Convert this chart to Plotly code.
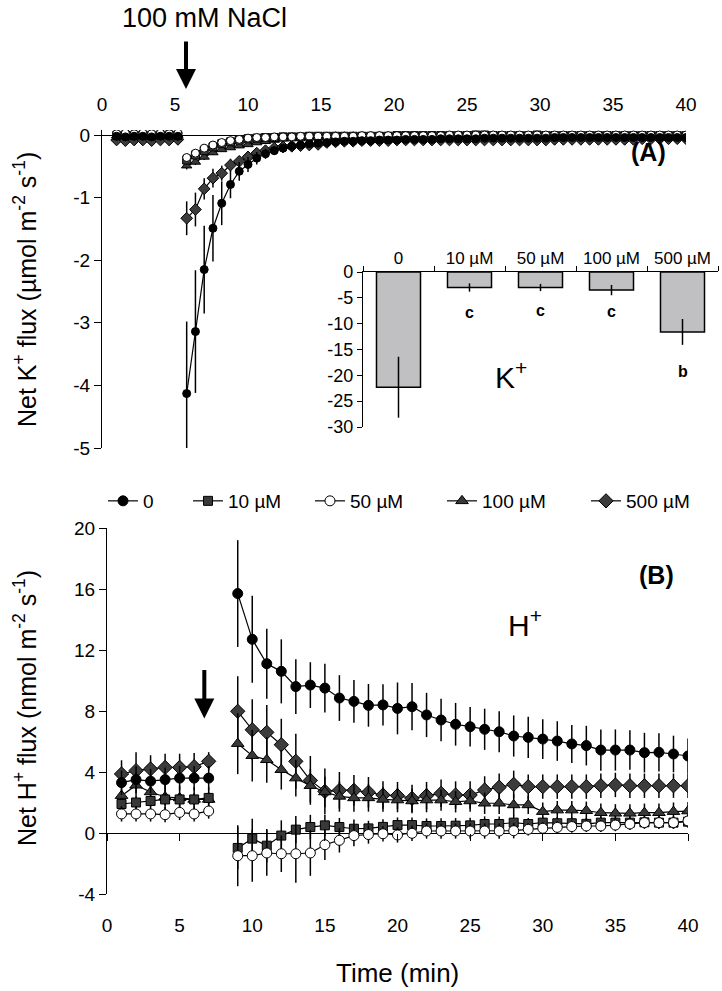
import plotly.graph_objects as go

W, H = 722, 991
FONT = "Liberation Sans, Arial, sans-serif"


def px(x):
    return x / W


def py(y):
    return 1 - y / H


series_names = ["0", "10 µM", "50 µM", "100 µM", "500 µM"]

# ---------------- Panel A: net K+ flux (µmol m-2 s-1) ----------------
tA_pre = [1.0, 1.6, 2.2, 2.8, 3.4, 4.0, 4.6, 5.2]
tA_post = [5.8, 6.4, 7.0, 7.6, 8.2, 8.8, 9.4, 10.0, 10.6, 11.2,
           11.8, 12.4, 13.0, 13.6, 14.2, 14.8, 15.4, 16.0, 16.6, 17.2,
           17.8, 18.4, 19.0, 19.6, 20.2, 20.8, 21.4, 22.0, 22.6, 23.2,
           23.8, 24.4, 25.0, 25.6, 26.2, 26.8, 27.4, 28.0, 28.6, 29.2,
           29.8, 30.4, 31.0, 31.6, 32.2, 32.8, 33.4, 34.0, 34.6, 35.2,
           35.8, 36.4, 37.0, 37.6, 38.2, 38.8, 39.4, 40.0]

kA_pre = {
    "0":      [-0.02, -0.03, -0.02, -0.02, -0.03, -0.02, -0.02, -0.02],
    "10 µM":  [-0.01, 0.00, -0.01, 0.00, -0.01, 0.00, 0.00, -0.01],
    "50 µM":  [0.02, 0.03, 0.02, 0.03, 0.02, 0.03, 0.02, 0.03],
    "100 µM": [-0.01, 0.00, 0.00, -0.01, 0.00, 0.00, -0.01, 0.00],
    "500 µM": [-0.08, -0.09, -0.08, -0.08, -0.09, -0.08, -0.08, -0.07],
}
kA_pre_err = [0.03, 0.03, 0.03, 0.03, 0.03, 0.03, 0.03, 0.03]

kA_post_0 = [-4.13, -3.14, -2.15, -1.49, -1.09, -0.79, -0.58, -0.47, -0.37, -0.30,
             -0.25, -0.21, -0.18, -0.16, -0.14, -0.13, -0.12, -0.11, -0.10, -0.10,
             -0.09, -0.09, -0.08, -0.08, -0.08, -0.07, -0.07, -0.07, -0.07, -0.06,
             -0.06, -0.06, -0.06, -0.06, -0.05, -0.05, -0.05, -0.05, -0.05, -0.05,
             -0.05, -0.05, -0.04, -0.04, -0.04, -0.04, -0.04, -0.04, -0.04, -0.04,
             -0.04, -0.04, -0.04, -0.04, -0.04, -0.04, -0.04, -0.04]
kA_post_0_err = [1.15, 0.98, 0.70, 0.53, 0.35, 0.22, 0.15, 0.12, 0.10, 0.08,
                 0.07, 0.06, 0.06, 0.05, 0.05, 0.05, 0.04, 0.04, 0.04, 0.04,
                 0.04, 0.04, 0.04, 0.04, 0.04, 0.04, 0.04, 0.04, 0.04, 0.04,
                 0.04, 0.04, 0.04, 0.04, 0.04, 0.04, 0.04, 0.04, 0.04, 0.04,
                 0.04, 0.04, 0.04, 0.04, 0.04, 0.04, 0.04, 0.04, 0.04, 0.04,
                 0.04, 0.04, 0.04, 0.04, 0.04, 0.04, 0.04, 0.04]
kA_post_10 = [-0.40, -0.32, -0.25, -0.19, -0.14, -0.11, -0.08, -0.06, -0.05, -0.04,
              -0.04, -0.03, -0.03, -0.03, -0.02, -0.02, -0.02, -0.02, -0.02, -0.02,
              -0.02, -0.02, -0.02, -0.02, -0.01, -0.01, -0.01, -0.01, -0.01, -0.01,
              -0.01, -0.01, -0.01, 0.00, 0.00, -0.01, -0.01, -0.01, -0.01, -0.01,
              0.00, -0.01, -0.01, -0.01, -0.01, -0.01, -0.01, -0.01, -0.01, -0.01,
              -0.01, -0.01, -0.01, -0.01, -0.01, -0.01, -0.01, -0.01]
kA_post_50 = [-0.36, -0.29, -0.21, -0.16, -0.12, -0.09, -0.07, -0.05, -0.04, -0.04,
              -0.03, -0.03, -0.03, -0.02, -0.02, -0.02, -0.02, -0.02, -0.02, -0.02,
              -0.01, -0.01, -0.01, -0.01, -0.01, -0.01, -0.01, -0.01, -0.01, -0.01,
              0.00, 0.00, 0.00, 0.00, 0.00, 0.00, 0.00, 0.00, 0.00, 0.00,
              0.00, 0.00, 0.00, 0.00, 0.00, 0.00, 0.00, 0.00, 0.00, 0.00,
              0.00, 0.00, 0.00, 0.00, 0.00, 0.00, 0.00, 0.00]
kA_post_100 = [-0.49, -0.43, -0.35, -0.28, -0.23, -0.20, -0.17, -0.15, -0.12, -0.10,
               -0.08, -0.06, -0.05, -0.04, -0.03, -0.03, -0.03, -0.02, -0.02, -0.02,
               -0.02, -0.02, -0.02, -0.02, -0.02, -0.02, -0.01, -0.01, -0.01, -0.01,
               -0.01, -0.01, -0.01, -0.01, -0.01, -0.01, -0.01, -0.01, -0.01, -0.01,
               -0.01, -0.01, -0.01, -0.01, -0.01, -0.01, -0.01, -0.01, -0.01, -0.01,
               -0.01, -0.01, -0.01, -0.01, -0.01, -0.01, -0.01, -0.01]
kA_post_500 = [-1.33, -1.19, -0.86, -0.69, -0.61, -0.48, -0.42, -0.35, -0.29, -0.25,
               -0.21, -0.19, -0.18, -0.17, -0.16, -0.15, -0.12, -0.11, -0.10, -0.10,
               -0.09, -0.09, -0.09, -0.09, -0.08, -0.08, -0.08, -0.08, -0.08, -0.08,
               -0.08, -0.08, -0.08, -0.08, -0.08, -0.08, -0.08, -0.08, -0.08, -0.08,
               -0.08, -0.08, -0.07, -0.07, -0.07, -0.07, -0.07, -0.07, -0.07, -0.07,
               -0.07, -0.07, -0.06, -0.06, -0.06, -0.06, -0.06, -0.06]
kA_post_500_err = [0.27, 0.27, 0.17, 0.15, 0.12, 0.10, 0.08, 0.07, 0.06, 0.05,
                   0.04, 0.04, 0.04, 0.04, 0.04, 0.04, 0.04, 0.04, 0.04, 0.04,
                   0.04, 0.04, 0.04, 0.04, 0.04, 0.04, 0.04, 0.04, 0.04, 0.04,
                   0.04, 0.04, 0.04, 0.04, 0.04, 0.04, 0.04, 0.04, 0.04, 0.04,
                   0.04, 0.04, 0.04, 0.04, 0.04, 0.04, 0.04, 0.04, 0.04, 0.04,
                   0.04, 0.04, 0.04, 0.04, 0.04, 0.04, 0.04, 0.04]
kA_post_small_err = [0.06, 0.05, 0.05, 0.04, 0.04, 0.04, 0.03, 0.03, 0.03, 0.03,
                     0.03, 0.03, 0.03, 0.03, 0.03, 0.03, 0.03, 0.03, 0.03, 0.03,
                     0.03, 0.03, 0.03, 0.03, 0.03, 0.03, 0.03, 0.03, 0.03, 0.03,
                     0.03, 0.03, 0.03, 0.03, 0.03, 0.03, 0.03, 0.03, 0.03, 0.03,
                     0.03, 0.03, 0.03, 0.03, 0.03, 0.03, 0.03, 0.03, 0.03, 0.03,
                     0.03, 0.03, 0.03, 0.03, 0.03, 0.03, 0.03, 0.03]

kA_post = {"0": kA_post_0, "10 µM": kA_post_10, "50 µM": kA_post_50,
           "100 µM": kA_post_100, "500 µM": kA_post_500}
kA_post_err = {"0": kA_post_0_err, "10 µM": kA_post_small_err, "50 µM": kA_post_small_err,
               "100 µM": kA_post_small_err, "500 µM": kA_post_500_err}

# ---------------- Inset: integrated K+ flux ----------------
inset_cats = ["0", "10 µM", "50 µM", "100 µM", "500 µM"]
inset_vals = [-22.3, -3.0, -3.0, -3.5, -11.6]
inset_err = [5.9, 0.8, 0.7, 1.0, 2.5]
inset_letters = ["a", "c", "c", "c", "b"]

# ---------------- Panel B: net H+ flux (nmol m-2 s-1) ----------------
tB_pre = [1, 2, 3, 4, 5, 6, 7]
tB_post = [9, 10, 11, 12, 13, 14, 15, 16, 17, 18, 19, 20, 21, 22, 23, 24,
           25, 26, 27, 28, 29, 30, 31, 32, 33, 34, 35, 36, 37, 38, 39, 40]

hB_pre = {
    "0":      [3.3, 3.5, 3.4, 3.5, 3.6, 3.6, 3.6],
    "10 µM":  [1.9, 2.0, 2.1, 2.2, 2.2, 2.2, 2.3],
    "50 µM":  [1.25, 1.25, 1.25, 1.2, 1.35, 1.25, 1.44],
    "100 µM": [2.45, 3.13, 2.69, 2.36, 2.3, 2.2, 2.2],
    "500 µM": [3.87, 4.09, 4.2, 4.3, 4.3, 4.35, 4.7],
}
hB_pre_err = {
    "0":      [0.8, 0.9, 0.8, 0.8, 0.8, 0.8, 0.8],
    "10 µM":  [0.4, 0.4, 0.4, 0.4, 0.4, 0.4, 0.4],
    "50 µM":  [0.5, 0.5, 0.5, 0.5, 0.5, 0.5, 0.5],
    "100 µM": [0.8, 0.8, 0.8, 0.8, 0.8, 0.8, 0.8],
    "500 µM": [0.9, 1.2, 0.9, 0.9, 0.9, 0.9, 0.6],
}
hB_post = {
    "0": [15.7, 12.7, 11.1, 10.6, 9.6, 9.7, 9.5, 8.85, 8.63, 8.37,
          8.4, 8.17, 8.28, 7.74, 7.41, 7.13, 6.97, 6.8, 6.64, 6.36,
          6.27, 6.16, 6.03, 5.84, 5.73, 5.44, 5.44, 5.44, 5.27, 5.29,
          5.18, 5.05],
    "10 µM": [-0.98, -0.37, -0.83, -0.17, 0.22, 0.39, 0.5, 0.39, 0.28, 0.3,
              0.4, 0.52, 0.52, 0.46, 0.46, 0.48, 0.5, 0.59, 0.59, 0.68,
              0.59, 0.68, 0.64, 0.64, 0.6, 0.68, 0.68, 0.68, 0.7, 0.68,
              0.68, 0.74],
    "50 µM": [-1.49, -1.49, -1.31, -1.36, -1.36, -1.31, -0.77, -0.48, -0.17, -0.1,
              -0.05, -0.13, -0.02, 0.13, 0.13, 0.13, 0.13, 0.13, 0.13, 0.15,
              0.24, 0.31, 0.37, 0.42, 0.46, 0.46, 0.52, 0.59, 0.68, 0.68,
              0.68, 0.79],
    "100 µM": [5.86, 5.07, 4.8, 4.15, 3.6, 3.1, 2.69, 2.4, 2.3, 2.3,
               2.2, 2.16, 2.1, 2.16, 2.16, 2.05, 2.1, 1.95, 1.95, 1.84,
               1.84, 1.4, 1.5, 1.5, 1.46, 1.33, 1.29, 1.29, 1.33, 1.33,
               1.4, 1.44],
    "500 µM": [7.98, 6.77, 6.6, 5.79, 4.7, 3.45, 2.73, 2.8, 2.8, 2.67,
               2.49, 2.45, 2.27, 2.45, 2.6, 2.49, 2.49, 2.82, 3.0, 3.19,
               3.04, 3.04, 3.04, 3.04, 3.04, 3.1, 3.15, 3.1, 3.1, 3.1,
               3.1, 3.1],
}
hB_post_err = {
    "0": [3.5, 2.85, 2.3, 2.1, 1.8, 1.5, 1.6, 1.5, 1.4, 1.4,
          1.35, 1.7, 1.55, 1.45, 1.4, 1.4, 1.3, 1.35, 1.35, 1.35,
          1.35, 1.3, 1.3, 1.25, 1.3, 1.35, 1.35, 1.3, 1.3, 1.25,
          1.2, 1.15],
    "10 µM": [1.4, 1.3, 1.1, 1.0, 0.9, 0.8, 0.7, 0.6, 0.6, 0.5,
              0.5, 0.5, 0.5, 0.5, 0.5, 0.5, 0.5, 0.5, 0.5, 0.5,
              0.4, 0.4, 0.4, 0.4, 0.4, 0.4, 0.4, 0.4, 0.4, 0.4,
              0.4, 0.4],
    "50 µM": [2.0, 1.7, 1.5, 1.2, 1.9, 1.5, 1.0, 0.8, 0.7, 0.6,
              0.5, 0.5, 0.5, 0.5, 0.5, 0.5, 0.5, 0.5, 0.5, 0.5,
              0.4, 0.4, 0.4, 0.4, 0.4, 0.4, 0.4, 0.4, 0.4, 0.4,
              0.4, 0.4],
    "100 µM": [2.0, 1.7, 1.5, 1.3, 1.2, 1.1, 1.0, 1.0, 0.9, 0.9,
               0.8, 0.8, 0.8, 0.8, 0.7, 0.7, 0.7, 0.7, 0.7, 0.7,
               0.6, 0.6, 0.6, 0.6, 0.6, 0.6, 0.6, 0.6, 0.6, 0.6,
               0.6, 0.6],
    "500 µM": [2.3, 2.0, 1.8, 1.7, 1.8, 1.6, 1.5, 1.2, 1.0, 1.0,
               0.9, 0.9, 0.9, 0.9, 0.9, 0.9, 0.9, 0.9, 0.9, 0.9,
               0.8, 0.8, 0.8, 0.8, 0.8, 0.8, 0.8, 0.8, 0.8, 0.8,
               0.8, 0.8],
}

time_ticks = [0, 5, 10, 15, 20, 25, 30, 35, 40]
kA_ticks = [0, -1, -2, -3, -4, -5]
hB_ticks = [-4, 0, 4, 8, 12, 16, 20]
inset_ticks = [0, -5, -10, -15, -20, -25, -30]

# ---------------- styles ----------------
styles = {
    "0":      dict(symbol="circle", color="#000000", sA=8, sB=10),
    "10 µM":  dict(symbol="square", color="#383838", sA=8, sB=9),
    "50 µM":  dict(symbol="circle", color="#ffffff", sA=8, sB=10),
    "100 µM": dict(symbol="triangle-up", color="#383838", sA=9, sB=11),
    "500 µM": dict(symbol="diamond", color="#3c3c3c", sA=9, sB=11),
}
legend_x_px = {"0": 103, "10 µM": 188, "50 µM": 310, "100 µM": 442, "500 µM": 586}
legend_keys = {"0": "legend", "10 µM": "legend2", "50 µM": "legend3",
               "100 µM": "legend4", "500 µM": "legend5"}
draw_order = ["500 µM", "100 µM", "10 µM", "50 µM", "0"]


def lab(v):
    return str(v)


fig = go.Figure()

for name in draw_order:
    st = styles[name]
    # Panel A
    fig.add_trace(go.Scatter(
        x=tA_pre + [None] + tA_post,
        y=kA_pre[name] + [None] + kA_post[name],
        mode="lines+markers", connectgaps=False,
        line=dict(color="black", width=1.2),
        marker=dict(symbol=st["symbol"], color=st["color"], size=st["sA"],
                    line=dict(color="black", width=1)),
        error_y=dict(type="data", symmetric=True,
                     array=kA_pre_err + [0] + kA_post_err[name],
                     color="black", thickness=1.5, width=0),
        xaxis="x", yaxis="y", showlegend=False, hoverinfo="skip"))
    # Panel B
    fig.add_trace(go.Scatter(
        x=tB_pre + [None] + tB_post,
        y=hB_pre[name] + [None] + hB_post[name],
        name=name, mode="lines+markers", connectgaps=False,
        line=dict(color="black", width=1.2),
        marker=dict(symbol=st["symbol"], color=st["color"], size=st["sB"],
                    line=dict(color="black", width=1)),
        error_y=dict(type="data", symmetric=True,
                     array=hB_pre_err[name] + [0] + hB_post_err[name],
                     color="black", thickness=1.5, width=0),
        xaxis="x2", yaxis="y2", legend=legend_keys[name], hoverinfo="skip"))

# helper trace so the zero-line tick axis of panel B is drawn
fig.add_trace(go.Scatter(x=[0], y=[0], xaxis="x3", yaxis="y2", mode="markers",
                         marker=dict(opacity=0), showlegend=False, hoverinfo="skip"))

# inset bars
fig.add_trace(go.Bar(
    x=inset_cats, y=inset_vals, width=0.62,
    marker=dict(color="#c0c0c2", line=dict(color="black", width=1.5)),
    error_y=dict(type="data", array=inset_err, symmetric=True,
                 color="black", thickness=1.5, width=0),
    xaxis="x4", yaxis="y4", showlegend=False, hoverinfo="skip"))

# domains
xA_dom = [px(102), px(686)]
yA_dom = [py(448), py(130)]
xB_dom = [px(107), px(688)]
yB_dom = [py(894), py(528)]
yB_range = [-4, 20]
zero_pos = yB_dom[0] + (0 - yB_range[0]) / (yB_range[1] - yB_range[0]) * (yB_dom[1] - yB_dom[0])

tickfont = dict(family=FONT, size=19, color="black")
axis_common = dict(showgrid=False, linecolor="black", linewidth=1.3, automargin=False,
                   tickcolor="black", tickwidth=1.3, tickfont=tickfont)

layout = dict(
    template="none",
    width=W, height=H, margin=dict(l=0, r=0, t=0, b=0, autoexpand=False),
    paper_bgcolor="white", plot_bgcolor="rgba(0,0,0,0)",
    font=dict(family=FONT, color="black"),
    xaxis=dict(domain=xA_dom, range=[0, 40], side="top", anchor="y",
               tickvals=time_ticks, ticktext=[lab(v) for v in time_ticks],
               showline=False, ticks="", zeroline=False,
               ticklabelstandoff=14, **axis_common),
    yaxis=dict(domain=yA_dom, range=[-5, 0.08], anchor="x",
               tickvals=kA_ticks, ticktext=[lab(v) for v in kA_ticks],
               ticks="outside", ticklen=7, showline=True,
               zeroline=True, zerolinecolor="black", zerolinewidth=1.3, **axis_common),
    xaxis2=dict(domain=xB_dom, range=[0, 40], anchor="y2", side="bottom",
                tickvals=time_ticks, ticktext=[lab(v) for v in time_ticks],
                showline=False, ticks="", zeroline=False,
                ticklabelstandoff=18, **axis_common),
    yaxis2=dict(domain=yB_dom, range=yB_range, anchor="x2",
                tickvals=hB_ticks, ticktext=[lab(v) for v in hB_ticks],
                ticks="outside", ticklen=7, showline=True,
                zeroline=True, zerolinecolor="black", zerolinewidth=1.3, **axis_common),
    xaxis3=dict(overlaying="x2", anchor="free", position=zero_pos, side="bottom",
                range=[0, 40], tickvals=time_ticks, ticks="outside", ticklen=7,
                showticklabels=False, showline=False, zeroline=False, automargin=False,
                showgrid=False, tickcolor="black", tickwidth=1.3),
    xaxis4=dict(domain=[px(363), px(718)], anchor="y4", side="top", type="category",
                range=[-0.5, 4.5], tickson="boundaries", ticks="outside", ticklen=5,
                showline=True, zeroline=False, showgrid=False, linecolor="black",
                linewidth=1.3, tickcolor="black", tickwidth=1.3, automargin=False,
                tickfont=dict(family=FONT, size=17, color="black")),
    yaxis4=dict(domain=[py(427), py(272)], anchor="x4", range=[-30, 0],
                tickvals=inset_ticks, ticktext=[lab(v) for v in inset_ticks],
                ticks="outside", ticklen=5, showline=True, zeroline=False,
                showgrid=False, linecolor="black", linewidth=1.3, automargin=False,
                tickcolor="black", tickwidth=1.3,
                tickfont=dict(family=FONT, size=18, color="black")),
    bargap=0.38,
)

for name in series_names:
    layout[legend_keys[name]] = dict(
        x=px(legend_x_px[name]), y=py(501), xanchor="left", yanchor="middle",
        orientation="h", bgcolor="rgba(0,0,0,0)", itemwidth=30,
        font=dict(family=FONT, size=19, color="black"))

fig.update_layout(**layout)


def note(text, x, y, size, ref=("paper", "paper"), angle=0):
    return dict(text=text, x=x, y=y, xref=ref[0], yref=ref[1], showarrow=False,
                xanchor="center", yanchor="middle", textangle=angle,
                font=dict(family=FONT, size=size, color="black"))


annotations = [
    note("100 mM NaCl", px(204), py(18), 27),
    dict(text="", x=px(186), y=py(89), xref="paper", yref="paper",
         showarrow=True, ax=0, ay=-49, arrowhead=2, arrowwidth=4, arrowsize=1,
         arrowcolor="black"),
    dict(text="", x=6.7, y=7.5, xref="x2", yref="y2",
         showarrow=True, ax=0, ay=-50, arrowhead=2, arrowwidth=4, arrowsize=1,
         arrowcolor="black"),
    note("<b>(A)</b>", px(648), py(152), 25),
    note("<b>(B)</b>", px(656), py(575), 25),
    note("K<sup>+</sup>", px(511), py(375), 30),
    note("H<sup>+</sup>", px(525), py(623), 30),
    note("Net K<sup>+</sup> flux (µmol m<sup>-2</sup> s<sup>-1</sup>)", px(25), py(290), 25, angle=-90),
    note("Net H<sup>+</sup> flux (nmol m<sup>-2</sup> s<sup>-1</sup>)", px(25), py(708), 25, angle=-90),
    note("Time (min)", px(398), py(973), 26),
]
letter_y = [-30.6, -7.9, -7.4, -7.7, -19.3]
for cat, letter, ly in zip(inset_cats, inset_letters, letter_y):
    annotations.append(note("<b>%s</b>" % letter, cat, ly, 16, ref=("x4", "y4")))
fig.update_layout(annotations=annotations)

fig.write_html(
    "out.html",
    config={"displayModeBar": False},
    post_script="document.body.style.margin='0px';document.body.style.overflow='hidden';",
)
